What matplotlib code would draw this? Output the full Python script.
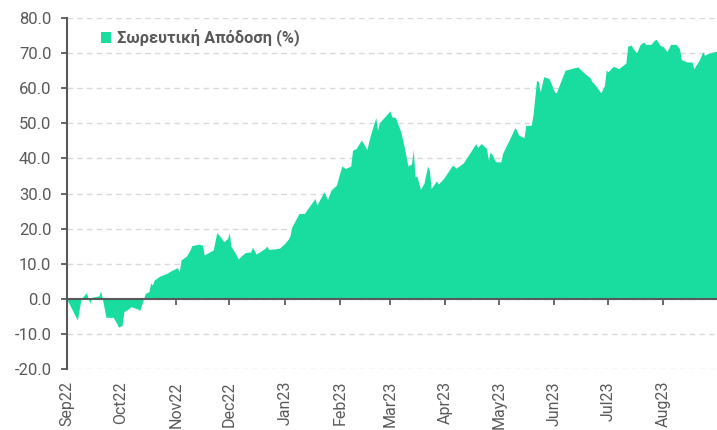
import pandas as pd
import matplotlib.pyplot as plt

# Cumulative return (%)
dates = [
    "2022-09-01", "2022-09-07", "2022-09-09", "2022-09-12", "2022-09-14", "2022-09-15",
    "2022-09-19", "2022-09-20", "2022-09-21", "2022-09-23", "2022-09-27", "2022-09-29",
    "2022-09-30", "2022-10-02", "2022-10-03", "2022-10-05", "2022-10-07", "2022-10-10",
    "2022-10-12", "2022-10-13", "2022-10-14", "2022-10-15", "2022-10-17", "2022-10-18",
    "2022-10-19", "2022-10-20", "2022-10-23", "2022-10-27", "2022-10-30", "2022-11-02",
    "2022-11-03", "2022-11-04", "2022-11-07", "2022-11-09", "2022-11-10", "2022-11-14",
    "2022-11-16", "2022-11-17", "2022-11-20", "2022-11-22", "2022-11-24", "2022-11-26",
    "2022-11-28", "2022-11-30", "2022-12-01", "2022-12-02", "2022-12-04", "2022-12-06",
    "2022-12-08", "2022-12-10", "2022-12-13", "2022-12-14", "2022-12-16", "2022-12-18",
    "2022-12-21", "2022-12-22", "2022-12-23", "2022-12-29", "2023-01-01", "2023-01-03",
    "2023-01-04", "2023-01-05", "2023-01-09", "2023-01-12", "2023-01-18", "2023-01-19",
    "2023-01-23", "2023-01-25", "2023-01-27", "2023-01-30", "2023-01-31", "2023-02-02",
    "2023-02-04", "2023-02-07", "2023-02-08", "2023-02-10", "2023-02-13", "2023-02-16",
    "2023-02-18", "2023-02-21", "2023-02-22", "2023-02-23", "2023-03-01", "2023-03-02",
    "2023-03-04", "2023-03-07", "2023-03-09", "2023-03-11", "2023-03-13", "2023-03-14",
    "2023-03-15", "2023-03-16", "2023-03-18", "2023-03-20", "2023-03-22", "2023-03-23",
    "2023-03-24", "2023-03-27", "2023-03-28", "2023-03-31", "2023-04-05", "2023-04-07",
    "2023-04-11", "2023-04-15", "2023-04-18", "2023-04-19", "2023-04-21", "2023-04-24",
    "2023-04-25", "2023-04-26", "2023-04-27", "2023-04-29", "2023-05-02", "2023-05-03",
    "2023-05-07", "2023-05-10", "2023-05-12", "2023-05-15", "2023-05-16", "2023-05-19",
    "2023-05-20", "2023-05-22", "2023-05-23", "2023-05-24", "2023-05-26", "2023-05-29",
    "2023-06-01", "2023-06-02", "2023-06-07", "2023-06-09", "2023-06-14", "2023-06-18",
    "2023-06-21", "2023-06-22", "2023-06-23", "2023-06-27", "2023-06-29", "2023-06-30",
    "2023-07-01", "2023-07-04", "2023-07-07", "2023-07-11", "2023-07-12", "2023-07-14",
    "2023-07-15", "2023-07-17", "2023-07-19", "2023-07-21", "2023-07-22", "2023-07-25",
    "2023-07-27", "2023-07-28", "2023-07-30", "2023-08-01", "2023-08-03", "2023-08-05",
    "2023-08-08", "2023-08-10", "2023-08-11", "2023-08-14", "2023-08-17", "2023-08-18",
    "2023-08-21", "2023-08-23", "2023-08-24", "2023-08-26", "2023-08-28", "2023-08-31",
]
returns = [
    0.0, -6.0, 0.0, 1.8, -1.2, 0.5,
    0.9, 2.3, 0.0, -5.2, -5.2, -6.9,
    -8.0, -7.5, -3.6, -3.0, -2.2, -2.7,
    -3.2, -1.5, 0.0, 1.6, 2.1, 4.5,
    4.0, 5.4, 6.5, 7.3, 8.2, 8.9,
    7.7, 11.1, 12.2, 13.9, 15.2, 15.6,
    15.3, 12.5, 13.4, 13.9, 18.9, 17.7,
    16.3, 17.2, 18.8, 14.9, 13.4, 11.4,
    12.4, 13.2, 13.4, 14.7, 12.8, 13.4,
    14.4, 15.1, 14.1, 14.4, 15.8, 17.0,
    18.0, 20.5, 24.3, 24.3, 28.6, 26.7,
    30.5, 28.3, 31.0, 32.4, 34.3, 37.8,
    37.1, 37.8, 42.3, 42.8, 45.2, 42.5,
    46.6, 51.6, 48.0, 50.1, 53.5, 51.8,
    51.6, 47.5, 43.1, 37.8, 38.4, 42.5,
    34.7, 35.0, 31.2, 32.9, 37.8, 36.6,
    31.4, 33.6, 32.7, 34.3, 38.1, 37.2,
    38.7, 41.8, 44.2, 43.1, 44.2, 42.8,
    39.5, 41.8, 41.2, 39.0, 39.0, 41.4,
    45.6, 48.8, 46.6, 45.9, 49.4, 49.4,
    52.3, 62.2, 61.8, 58.9, 63.2, 62.7,
    58.9, 58.6, 65.1, 65.3, 66.0, 64.1,
    62.9, 61.7, 61.4, 58.6, 60.7, 65.1,
    64.6, 66.2, 65.5, 67.1, 71.9, 72.2,
    71.2, 70.0, 72.4, 73.1, 72.4, 72.4,
    73.6, 73.8, 72.2, 71.7, 70.3, 72.4,
    72.4, 71.2, 68.1, 67.4, 67.4, 65.5,
    67.9, 70.3, 69.3, 69.8, 70.1, 70.5,
]
series_label = "Σωρευτική Απόδοση (%)"
month_ticks = pd.date_range("2022-09-01", "2023-08-01", freq="MS")
y_ticks = [-20, -10, 0, 10, 20, 30, 40, 50, 60, 70, 80]

plt.rcParams['font.family'] = ['Roboto', 'DejaVu Sans']
grey = '#595959'
green = '#19DC9F'

x = pd.to_datetime(dates)

fig = plt.figure(figsize=(7.17, 4.30), dpi=100)
ax = fig.add_axes([0.093, 0.141, 0.907, 0.818])

ax.fill_between(x, returns, 0, color=green, linewidth=0, label=series_label)

# spines first: moving the bottom spine resets the x ticks
for side in ['top', 'right']:
    ax.spines[side].set_visible(False)
ax.spines['bottom'].set_position(('data', 0))
for side in ['left', 'bottom']:
    ax.spines[side].set_color(grey)
    ax.spines[side].set_linewidth(1.5)
    ax.spines[side].set_zorder(3)

ax.set_xlim(pd.Timestamp("2022-09-01"), pd.Timestamp("2023-08-31"))
ax.set_ylim(-20, 80)
ax.set_yticks(y_ticks)
ax.set_yticklabels([f"{v:.1f}" for v in y_ticks])
ax.yaxis.grid(True, color='#d9d9d9', linestyle=(0, (4, 3)), linewidth=1)
ax.set_axisbelow(True)

# category axis crosses at zero; month labels sit low, below the -20 line
ax.set_xticks(month_ticks)
ax.set_xticklabels([d.strftime("%b%y") for d in month_ticks])
ax.tick_params(axis='x', direction='out', length=4, width=1.3, color=grey,
               pad=55, labelsize=11.5, labelcolor=grey, labelrotation=90)
ax.tick_params(axis='y', length=4, width=1.3, color=grey, pad=7,
               labelsize=12, labelcolor=grey)

ax.legend(loc='upper left', bbox_to_anchor=(0.042, 0.985), frameon=False,
          handlelength=0.65, handleheight=0.65, handletextpad=0.35, borderaxespad=0,
          prop={'weight': 'bold', 'size': 11.8}, labelcolor=grey)

fig.savefig("out.png", dpi=100)
